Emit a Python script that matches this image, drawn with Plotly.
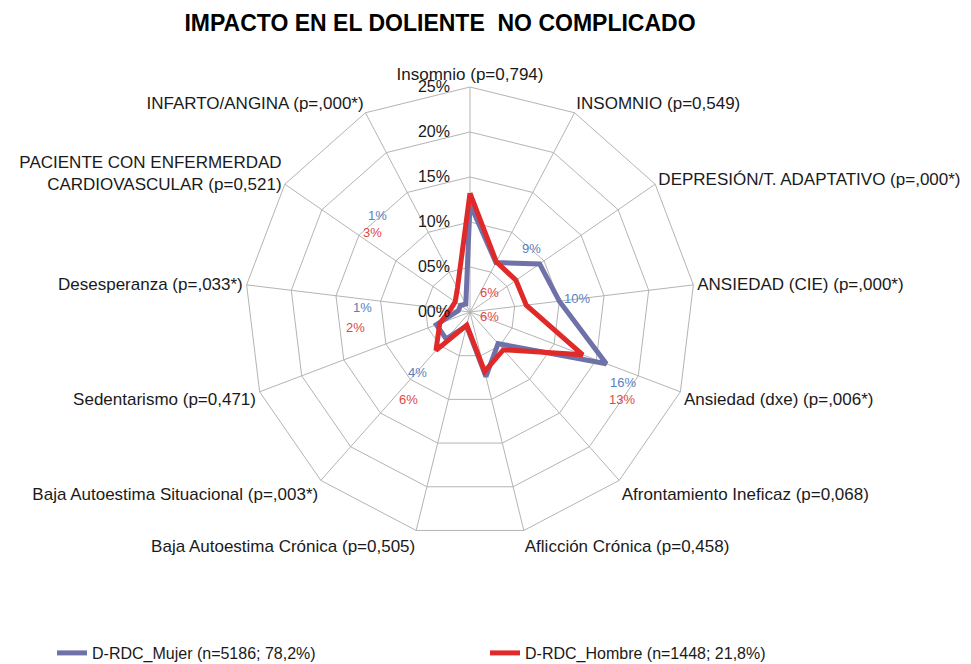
import plotly.graph_objects as go

categories = [
    "Insomnio (p=0,794)",
    "INSOMNIO (p=0,549)",
    "DEPRESIÓN/T. ADAPTATIVO (p=,000*)",
    "ANSIEDAD (CIE) (p=,000*)",
    "Ansiedad (dxe) (p=,006*)",
    "Afrontamiento Ineficaz (p=0,068)",
    "Aflicción Crónica (p=0,458)",
    "Baja Autoestima Crónica (p=0,505)",
    "Baja Autoestima Situacional (p=,003*)",
    "Sedentarismo (p=0,471)",
    "Desesperanza (p=,033*)",
    "PACIENTE CON ENFERMERDAD<br>CARDIOVASCULAR (p=0,521)",
    "INFARTO/ANGINA (p=,000*)",
]
mujer = [12.0, 6.2, 9.4, 10.0, 16.2, 4.7, 7.4, 1.6, 4.0, 4.0, 1.3, 1.3, 1.0]
hombre = [13.2, 6.3, 6.2, 6.3, 13.4, 5.6, 6.8, 1.5, 5.7, 3.6, 2.2, 2.0, 3.0]
mujer_name = "D-RDC_Mujer (n=5186; 78,2%)"
hombre_name = "D-RDC_Hombre (n=1448; 21,8%)"
tick_vals = [0, 5, 10, 15, 20, 25]
tick_text = ["00%", "05%", "10%", "15%", "20%", "25%"]
labeled_idx = [2, 3, 4, 8, 10, 12]

BLUE_LINE = "#6e72a8"
BLUE_TXT = "#5a7fc0"
RED_LINE = "#e02a2a"
RED_TXT = "#e04848"
FONT = "Liberation Sans, Arial, sans-serif"
W, H = 971, 664
OFF = 8  # page offset of the plot div

# label pixel positions (layout), keyed by category index: (blue xy, red xy)
label_pos = {
    2: ((531, 248), (489, 292)),
    3: ((577, 298), (489, 316)),
    4: ((623, 382), (622, 399)),
    8: ((417, 373), (408, 399)),
    10: ((362, 307), (355, 327)),
    12: ((377, 206), (372, 223)),
}


def px(x, y):
    return (x - OFF) / W, 1 - (y - OFF) / H


fig = go.Figure()
fig.add_trace(go.Scatterpolar(
    r=mujer + [mujer[0]], theta=categories + [categories[0]],
    mode="lines", name=mujer_name,
    line=dict(color=BLUE_LINE, width=5),
))
fig.add_trace(go.Scatterpolar(
    r=hombre + [hombre[0]], theta=categories + [categories[0]],
    mode="lines", name=hombre_name,
    line=dict(color=RED_LINE, width=5),
))

annotations = []
for i in labeled_idx:
    (bx, by), (rx, ry) = label_pos[i]
    ax, ay = px(bx, by)
    annotations.append(dict(x=ax, y=ay, xref="paper", yref="paper",
                            text=f"{round(mujer[i])}%", showarrow=False,
                            font=dict(family=FONT, size=13, color=BLUE_TXT)))
    ax, ay = px(rx, ry)
    annotations.append(dict(x=ax, y=ay, xref="paper", yref="paper",
                            text=f"{round(hombre[i])}%", showarrow=False,
                            font=dict(family=FONT, size=13, color=RED_TXT)))

cx, cy, R = 470 - OFF, 312 - OFF, 225
tx, ty = px(440, 23)
lx, ly = px(52, 653)
fig.update_layout(
    width=W, height=H,
    margin=dict(l=0, r=0, t=0, b=0),
    paper_bgcolor="white", plot_bgcolor="white",
    font=dict(family=FONT, size=17, color="#1a1a1a"),
    title=dict(text="<b>IMPACTO EN EL DOLIENTE  NO COMPLICADO</b>",
               x=tx, xanchor="center", y=ty, yanchor="middle", yref="container",
               pad=dict(t=0, b=0),
               font=dict(family=FONT, size=23, color="black")),
    polar=dict(
        domain=dict(x=[(cx - R) / W, (cx + R) / W], y=[1 - (cy + R) / H, 1 - (cy - R) / H]),
        gridshape="linear",
        bgcolor="white",
        radialaxis=dict(range=[0, 25], tickvals=tick_vals, ticktext=tick_text,
                        angle=90, tickangle=90, side="counterclockwise",
                        showline=False, ticks="outside", ticklen=14,
                        tickcolor="rgba(0,0,0,0)",
                        gridcolor="#b4b4b4", gridwidth=1,
                        tickfont=dict(family=FONT, size=16, color="#1a1a1a")),
        angularaxis=dict(direction="clockwise", rotation=90, showline=True,
                         linecolor="#b4b4b4", linewidth=1, gridcolor="#b4b4b4",
                         ticks="", tickfont=dict(family=FONT, size=17, color="#1a1a1a")),
    ),
    showlegend=True,
    legend=dict(orientation="h", x=lx, xanchor="left", y=ly, yanchor="middle",
                entrywidth=388, entrywidthmode="pixels",
                font=dict(family=FONT, size=16, color="#1a1a1a")),
    annotations=annotations,
)

fig.write_html("out.html")
